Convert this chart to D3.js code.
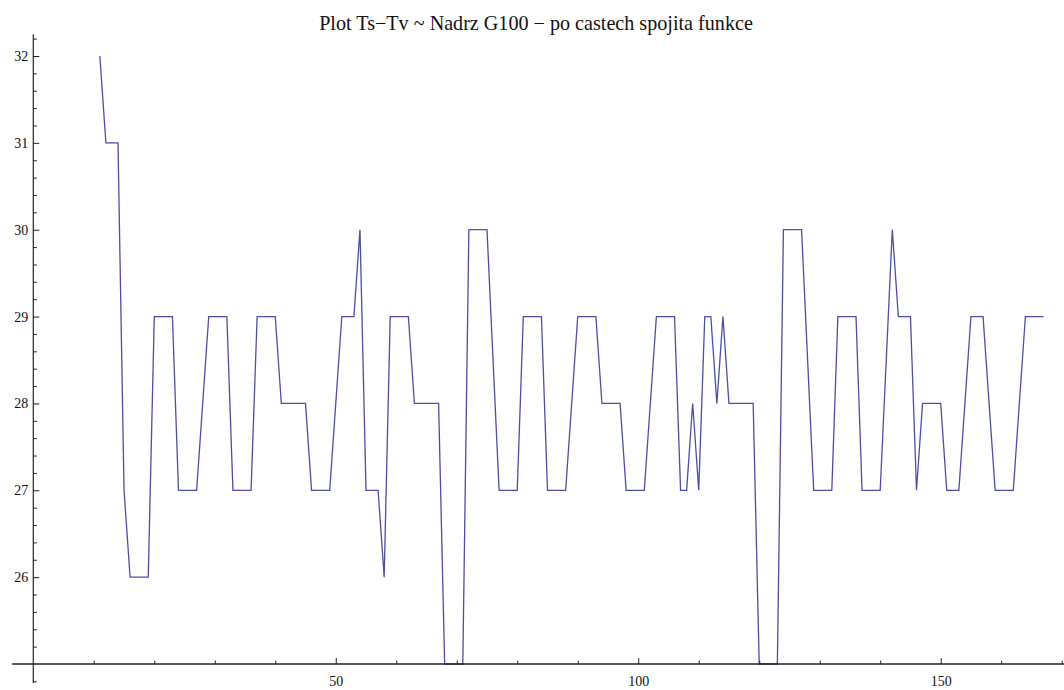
<!DOCTYPE html>
<html><head><meta charset="utf-8">
<script src="https://cdn.jsdelivr.net/npm/d3@7"></script>
<style>body{margin:0;background:#fff}svg{display:block}</style>
</head><body>
<svg id="c" width="1064" height="690"></svg>
<script>
const titleText = "Plot Ts\u2212Tv ~ Nadrz G100 \u2212 po castech spojita funkce";
// vertices of the piecewise linear series (x, value)
const xValues = [11,12,14,15,16,19,20,23,24,27,29,32,33,36,37,40,41,45,46,49,51,53,54,55,57,58,59,62,63,67,68,71,72,75,77,80,81,84,85,88,90,93,94,97,98,101,103,106,107,108,109,110,111,112,113,114,115,119,120,123,124,127,129,132,133,136,137,140,142,143,145,146,147,150,151,153,155,157,159,162,164,167];
const yValues = [32,31,31,27,26,26,29,29,27,27,29,29,27,27,29,29,28,28,27,27,29,29,30,27,27,26,29,29,28,28,25,25,30,30,27,27,29,29,27,27,29,29,28,28,27,27,29,29,27,27,28,27,29,29,28,29,28,28,25,25,30,30,27,27,29,29,27,27,30,29,29,27,28,28,27,27,29,29,27,27,29,29];
const xMajorTicks = [50,100,150];
const xMinorTicks = [10,20,30,40,60,70,80,90,110,120,130,140,160,170];
const yMajorTicks = [26,27,28,29,30,31,32];
const yMinorTicks = d3.range(24.8, 32.21, 0.2).map(v => +v.toFixed(1)).filter(v => !yMajorTicks.includes(v) && v !== 25);

const svg = d3.select("#c");
const x = d3.scaleLinear().domain([0,150]).range([33.3,940.7]);
const y = d3.scaleLinear().domain([25,32]).range([664,56]);
const axisColor = "#222";
const font = "'Liberation Serif', 'Times New Roman', serif";

// series line
const line = d3.line().x((d,i)=>x(xValues[i])).y((d,i)=>y(yValues[i]));
svg.append("path").datum(yValues).attr("d", line)
  .attr("fill","none").attr("stroke","#4d4da6").attr("stroke-width",1.3)
  .attr("stroke-linejoin","miter");

// x axis
const gx = svg.append("g").attr("transform",`translate(0,${y(25)})`);
gx.append("line").attr("x1", x(-3.5)).attr("x2", 1064).attr("stroke",axisColor).attr("stroke-width",1.7);
gx.append("g").call(d3.axisBottom(x).tickValues(xMinorTicks).tickSizeInner(-3.5).tickSizeOuter(0).tickFormat(""))
  .call(g=>g.select(".domain").remove());
gx.append("g").call(d3.axisBottom(x).tickValues(xMajorTicks).tickSizeInner(-6).tickSizeOuter(0).tickPadding(12).tickFormat(d3.format("d")))
  .call(g=>g.select(".domain").remove());
gx.selectAll(".tick line").attr("stroke",axisColor);
gx.selectAll("text").attr("font-family",font).attr("font-size",14).attr("fill","#111");

// y axis
const gy = svg.append("g").attr("transform",`translate(${x(0)},0)`);
gy.append("line").attr("y1", y(32.25)).attr("y2", y(24.78)).attr("stroke",axisColor).attr("stroke-width",1.2);
gy.append("g").call(d3.axisLeft(y).tickValues(yMinorTicks).tickSizeInner(-3.5).tickSizeOuter(0).tickFormat(""))
  .call(g=>g.select(".domain").remove());
gy.append("g").call(d3.axisLeft(y).tickValues(yMajorTicks).tickSizeInner(-6).tickSizeOuter(0).tickPadding(5).tickFormat(d3.format("d")))
  .call(g=>g.select(".domain").remove());
gy.selectAll(".tick line").attr("stroke",axisColor);
gy.selectAll("text").attr("font-family",font).attr("font-size",14).attr("fill","#111");

// title
const t = svg.append("text").attr("x",536).attr("y",30).attr("text-anchor","middle")
  .attr("font-family",font).attr("font-size",17).attr("fill","#111").text(titleText);
const w = t.node().getComputedTextLength();
t.attr("font-size", 17*434/w);
</script>
</body></html>
